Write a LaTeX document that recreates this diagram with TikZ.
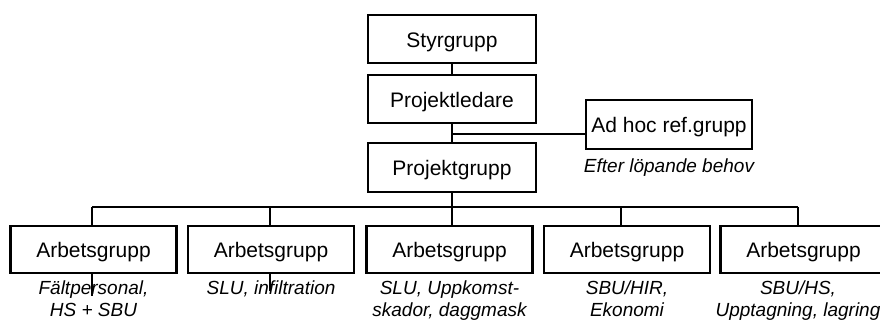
\documentclass[tikz,border=0pt]{standalone}
\usepackage{fontspec}
\setmainfont{Liberation Sans}
\begin{document}
\begin{tikzpicture}[x=1pt,y=-1pt,
  orgbox/.style={draw,line width=2.2pt,minimum width=168pt,minimum height=48pt,
    inner sep=0pt,font=\fontsize{21}{24}\selectfont,text height=17pt,text depth=0pt},
  groupbox/.style={orgbox,minimum width=166pt,minimum height=47pt},
  link/.style={line width=2.2pt},
  stub/.style={line width=1.2pt},
  note/.style={font=\fontsize{19}{21}\selectfont\itshape,align=center,anchor=base,inner sep=0pt}]
  \clip (0,0) rectangle (880,320);
  \useasboundingbox (0,0) rectangle (880,320);
  \fill[white] (0,0) rectangle (880,320);

  % management chain
  \node[orgbox] (styr) at (452,39) {Styrgrupp};
  \node[orgbox] (ledare) at (452,99) {Projektledare};
  \node[orgbox,minimum height=49pt] (pgrupp) at (452,167.5) {Projektgrupp};
  \node[orgbox,minimum width=166pt,minimum height=49pt] (adhoc) at (669,124.5) {Ad hoc ref.grupp};
  \node[note] (adhocnote) at (669,173) {Efter löpande behov};

  % working groups
  \node[groupbox] (ag1) at (93.5,249.5) {Arbetsgrupp};
  \node[groupbox] (ag2) at (271,249.5) {Arbetsgrupp};
  \node[groupbox] (ag3) at (449.5,249.5) {Arbetsgrupp};
  \node[groupbox] (ag4) at (627,249.5) {Arbetsgrupp};
  \node[groupbox] (ag5) at (803.5,249.5) {Arbetsgrupp};

  % descriptions (base anchor sits on the last line)
  \node[note] (n1) at (93.5,316) {Fältpersonal,\\HS + SBU};
  \node[note] (n2) at (271,294) {SLU, infiltration};
  \node[note] (n3) at (449.5,316) {SLU, Uppkomst-\\skador, daggmask};
  \node[note] (n4) at (627,316) {SBU/HIR,\\Ekonomi};
  \node[note] (n5) at (798,316) {SBU/HS,\\Upptagning, lagring};

  % connectors
  \coordinate (junc) at (452,134);
  \coordinate (t1) at (92,207);
  \coordinate (t2) at (270,207);
  \coordinate (t3) at (452,207);
  \coordinate (t4) at (621,207);
  \coordinate (t5) at (798,207);

  \draw[link] (styr.south) -- (ledare.north);
  \draw[link] (ledare.south) -- (pgrupp.north);
  \draw[link] (junc) -- (junc -| adhoc.west);
  \draw[link] (pgrupp.south) -- (t3) -- (t3 |- ag3.north);
  \draw[link] (t1) -- (t5);
  \draw[link] (t1) -- (t1 |- ag1.north);
  \draw[link] (t2) -- (t2 |- ag2.north);
  \draw[link] (t4) -- (t4 |- ag4.north);
  \draw[link] (t5) -- (t5 |- ag5.north);

  % short stubs below the first two groups
  \draw[stub] (t1 |- ag1.south) -- ++(0,22);
  \draw[stub] (t2 |- ag2.south) -- ++(0,17);
\end{tikzpicture}
\end{document}
